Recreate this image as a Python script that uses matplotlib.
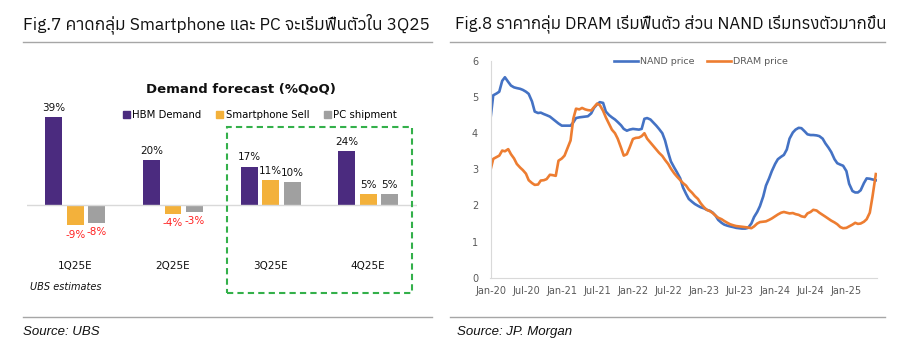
import matplotlib
matplotlib.use('Agg')
import matplotlib.pyplot as plt
import matplotlib.dates as mdates
from matplotlib.lines import Line2D
from matplotlib.patches import Patch, Rectangle
import numpy as np
import pandas as pd

# --- data: Fig.7 (UBS demand forecast, %QoQ)
quarters = ['1Q25E', '2Q25E', '3Q25E', '4Q25E']
hbm_demand = [39, 20, 17, 24]
smartphone_sell = [-9, -4, 11, 5]
pc_shipment = [-8, -3, 10, 5]

# --- data: Fig.8 (JP Morgan price index), semi-monthly from Jan-20
nand_price = [
    4.40, 5.05, 5.10, 5.15, 5.45, 5.55, 5.42, 5.32, 5.27, 5.25,
    5.23, 5.20, 5.15, 5.09, 4.88, 4.60, 4.56, 4.57, 4.53, 4.50,
    4.46, 4.40, 4.33, 4.27, 4.21, 4.21, 4.21, 4.21, 4.30, 4.42,
    4.44, 4.45, 4.46, 4.47, 4.55, 4.70, 4.80, 4.86, 4.84, 4.60,
    4.50, 4.44, 4.38, 4.31, 4.22, 4.12, 4.07, 4.10, 4.12, 4.11,
    4.10, 4.12, 4.40, 4.42, 4.38, 4.30, 4.21, 4.12, 4.00, 3.80,
    3.47, 3.22, 3.05, 2.92, 2.75, 2.50, 2.32, 2.18, 2.10, 2.04,
    1.99, 1.95, 1.92, 1.88, 1.85, 1.80, 1.72, 1.60, 1.52, 1.47,
    1.44, 1.42, 1.40, 1.38, 1.37, 1.36, 1.36, 1.38, 1.50, 1.68,
    1.82, 1.98, 2.25, 2.55, 2.75, 2.95, 3.15, 3.28, 3.35, 3.40,
    3.55, 3.85, 4.02, 4.10, 4.15, 4.14, 4.05, 3.97, 3.95, 3.95,
    3.94, 3.92, 3.85, 3.72, 3.60, 3.48, 3.28, 3.17, 3.13, 3.10,
    2.95, 2.60, 2.40, 2.36, 2.36, 2.42, 2.62, 2.75, 2.74, 2.72,
    2.70,
]
dram_price = [
    2.98, 3.29, 3.34, 3.38, 3.52, 3.50, 3.56, 3.42, 3.30, 3.15,
    3.05, 2.98, 2.88, 2.70, 2.62, 2.57, 2.58, 2.69, 2.70, 2.73,
    2.85, 2.84, 2.82, 3.24, 3.30, 3.38, 3.61, 3.80, 4.40, 4.68,
    4.66, 4.70, 4.66, 4.64, 4.63, 4.72, 4.82, 4.78, 4.62, 4.44,
    4.25, 4.10, 4.00, 3.85, 3.60, 3.38, 3.42, 3.60, 3.84, 3.87,
    3.88, 3.92, 4.00, 3.85, 3.74, 3.65, 3.55, 3.46, 3.37, 3.26,
    3.15, 3.02, 2.89, 2.80, 2.70, 2.62, 2.55, 2.44, 2.35, 2.26,
    2.18, 2.06, 1.95, 1.88, 1.84, 1.79, 1.72, 1.66, 1.62, 1.57,
    1.52, 1.48, 1.45, 1.43, 1.42, 1.41, 1.40, 1.39, 1.37, 1.42,
    1.50, 1.54, 1.55, 1.56, 1.60, 1.64, 1.70, 1.75, 1.80, 1.82,
    1.80, 1.78, 1.79, 1.76, 1.74, 1.70, 1.68, 1.78, 1.82, 1.88,
    1.86, 1.80, 1.74, 1.69, 1.63, 1.58, 1.53, 1.48, 1.40, 1.37,
    1.38, 1.42, 1.47, 1.52, 1.49, 1.50, 1.55, 1.62, 1.80, 2.25,
    2.87,
]
price_dates = pd.date_range('2020-01-01', periods=len(nand_price), freq='SMS')

title_family = ['Anuphan', 'Loma', 'DejaVu Sans']

W, H = 900, 354
fig = plt.figure(figsize=(9, 3.54), dpi=100)


def fx(px):
    return px / W


def fy(py):
    return 1 - py / H


def fit_width(txt, target_px):
    # shrink/grow a title so it spans the same width as in the source image
    r = fig.canvas.get_renderer()
    w = txt.get_window_extent(r).width
    txt.set_fontsize(txt.get_fontsize() * target_px / w)


# headers, rules and sources
t7 = fig.text(fx(23), fy(24), 'Fig.7 คาดกลุ่ม Smartphone และ PC จะเริ่มฟื้นตัวใน 3Q25',
              family=title_family, fontsize=13, va='center', ha='left', color='#111111')
t8 = fig.text(fx(455), fy(24), 'Fig.8 ราคากลุ่ม DRAM เริ่มฟื้นตัว ส่วน NAND เริ่มทรงตัวมากขึ้น',
              family=title_family, fontsize=13, va='center', ha='left', color='#111111')
fit_width(t7, 407)
fit_width(t8, 431)
for x0, x1 in [(23, 432), (450, 885)]:
    fig.add_artist(Line2D([fx(x0), fx(x1)], [fy(42), fy(42)], color='#a6a6a6', lw=1))
    fig.add_artist(Line2D([fx(x0), fx(x1)], [fy(317), fy(317)], color='#a6a6a6', lw=1))
fig.text(fx(23), fy(332), 'Source: UBS', family='Liberation Sans', style='italic',
         fontsize=9.5, va='center', color='#111111')
fig.text(fx(457), fy(332), 'Source: JP. Morgan', family='Liberation Sans', style='italic',
         fontsize=9.5, va='center', color='#111111')

# ---- left: bar chart
ax1 = fig.add_axes([fx(26.6), fy(255), fx(390.4), 160 / H])
x = np.arange(len(quarters))
bw = 0.174
off = 0.22
colors = ['#4b2b7f', '#f3b13b', '#a0a0a0']
series = [hbm_demand, smartphone_sell, pc_shipment]
names = ['HBM Demand', 'Smartphone Sell', 'PC shipment']
for i, (vals, c) in enumerate(zip(series, colors)):
    bars = ax1.bar(x + (i - 1) * off, vals, width=bw, color=c)
    for b, v in zip(bars, vals):
        if v >= 0:
            ax1.annotate(f'{v}%', (b.get_x() + bw / 2, v), xytext=(0, 3),
                         textcoords='offset points', ha='center', va='bottom',
                         fontsize=7.5, color='#111111')
        else:
            ax1.annotate(f'{v}%', (b.get_x() + bw / 2, v), xytext=(0, -3),
                         textcoords='offset points', ha='center', va='top',
                         fontsize=7.5, color='#ff2020')
ax1.set_xlim(-0.5, 3.5)
ax1.set_ylim(-22.1, 48.7)
ax1.axhline(0, color='#d9d9d9', lw=1)
for s in ax1.spines.values():
    s.set_visible(False)
ax1.set_yticks([])
ax1.set_xticks(x)
ax1.set_xticklabels(quarters, fontsize=7.5, color='#111111')
ax1.tick_params(axis='x', length=0, pad=4)

fig.text(fx(241), fy(89), 'Demand forecast (%QoQ)', fontsize=9.5, fontweight='bold',
         ha='center', va='center', color='#111111')
handles = [Patch(color=c) for c in colors]
fig.legend(handles, names, loc='center', bbox_to_anchor=(fx(260), fy(115)), ncol=3,
           frameon=False, fontsize=7.3, handlelength=0.7, handleheight=0.7,
           handletextpad=0.2, columnspacing=1.5)
fig.text(fx(30), fy(287), 'UBS estimates', style='italic', fontsize=7,
         va='center', color='#111111')
fig.add_artist(Rectangle((fx(227), fy(293)), fx(185), (293 - 127) / H,
                         fill=False, ec='#33b04a', lw=1.5, ls=(0, (3, 2))))

# ---- right: price lines
ax2 = fig.add_axes([fx(490.5), fy(277.7), fx(386.5), (277.7 - 61) / H])
ax2.plot(price_dates, nand_price, color='#4472c4', lw=1.9, label='NAND price')
ax2.plot(price_dates, dram_price, color='#ed7d31', lw=1.9, label='DRAM price')
ax2.set_ylim(0, 6)
ax2.set_xlim(pd.Timestamp('2020-01-01'), pd.Timestamp('2025-06-07'))
ax2.xaxis.set_major_locator(mdates.MonthLocator(bymonth=[1, 7]))
ax2.xaxis.set_major_formatter(mdates.DateFormatter('%b-%y'))
for s in ['top', 'right']:
    ax2.spines[s].set_visible(False)
for s in ['left', 'bottom']:
    ax2.spines[s].set_color('#d9d9d9')
ax2.tick_params(axis='both', labelsize=7, colors='#595959', length=0)
ax2.tick_params(axis='x', pad=6)
ax2.tick_params(axis='y', pad=9)
ax2.legend(loc='center', bbox_to_anchor=(fx(701), fy(62)), bbox_transform=fig.transFigure,
           ncol=2, frameon=False, fontsize=6.8, labelcolor='#595959',
           handlelength=2.5, columnspacing=1.4, handletextpad=0.2)

fig.savefig('out.png', dpi=100)
